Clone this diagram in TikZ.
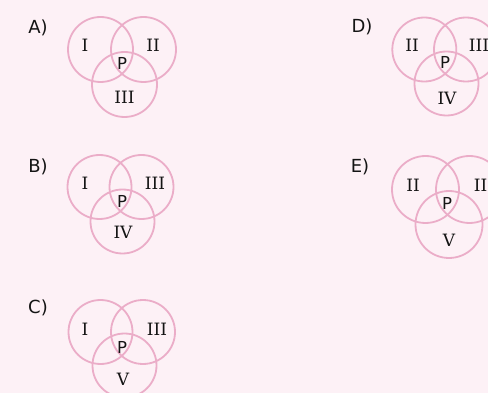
\documentclass[tikz,border=0pt]{standalone}
\usepackage{fontspec}
\setmainfont{DejaVu Sans}
\newfontfamily\numfont{DejaVu Serif}
\definecolor{bgc}{HTML}{FDF1F6}
\definecolor{ringc}{HTML}{EBADC8}
\definecolor{txtc}{HTML}{141414}
\tikzset{
  ring/.style={draw=ringc, line width=1.8pt},
  tag/.style={text=txtc, font=\fontsize{18}{20}\selectfont, inner sep=0pt},
  num/.style={text=txtc, font=\numfont\fontsize{17}{19}\selectfont, inner sep=0pt},
  pt/.style={text=txtc, font=\fontsize{16.5}{18}\selectfont, inner sep=0pt},
}
\begin{document}
\begin{tikzpicture}[x=1pt,y=-1pt]
\fill[bgc] (0,0) rectangle (488,393);
\useasboundingbox (0,0) rectangle (488,393);
\clip (0,0) rectangle (488,393);
% A
\node[tag] (ta) at (38,28) {A)};
\draw[ring] (100.5,49.5) circle[radius=32.5];
\draw[ring] (143.5,49.5) circle[radius=32.5];
\draw[ring] (124.5,84.5) circle[radius=32.5];
\node[num] (a1) at (85,45) {I};
\node[num] (a2) at (153,45) {II};
\node[pt] (ap) at (122,63) {P};
\node[num] (a3) at (124.5,97) {III};
% B
\node[tag] (tb) at (38,167) {B)};
\draw[ring] (99.5,187) circle[radius=32];
\draw[ring] (141.5,187) circle[radius=32];
\draw[ring] (122.5,221.5) circle[radius=32];
\node[num] (b1) at (85,183) {I};
\node[num] (b2) at (155,183) {III};
\node[pt] (bp) at (122,201) {P};
\node[num] (b3) at (123,232) {IV};
% C
\node[tag] (tc) at (38,308) {C)};
\draw[ring] (100.5,332) circle[radius=32];
\draw[ring] (143,332) circle[radius=32];
\draw[ring] (124.5,365.5) circle[radius=32];
\node[num] (c1) at (85,329) {I};
\node[num] (c2) at (157,329) {III};
\node[pt] (cp) at (122,347) {P};
\node[num] (c3) at (123,379) {V};
% D
\node[tag] (td) at (362,27) {D)};
\draw[ring] (424.3,49.5) circle[radius=32];
\draw[ring] (466,49.5) circle[radius=32];
\draw[ring] (446.5,83.5) circle[radius=32];
\node[num] (d1) at (412,45) {II};
\node[num] (d2) at (479,45) {III};
\node[pt] (dp) at (445,62) {P};
\node[num] (d3) at (447,98) {IV};
% E
\node[tag] (te) at (360,167) {E)};
\draw[ring] (425.5,189.5) circle[radius=33.5];
\draw[ring] (469.5,189.5) circle[radius=33.5];
\draw[ring] (449,224.5) circle[radius=33.5];
\node[num] (e1) at (413,185) {II};
\node[num] (e2) at (484,185) {III};
\node[pt] (ep) at (447,203) {P};
\node[num] (e3) at (449,240) {V};
\end{tikzpicture}
\end{document}
